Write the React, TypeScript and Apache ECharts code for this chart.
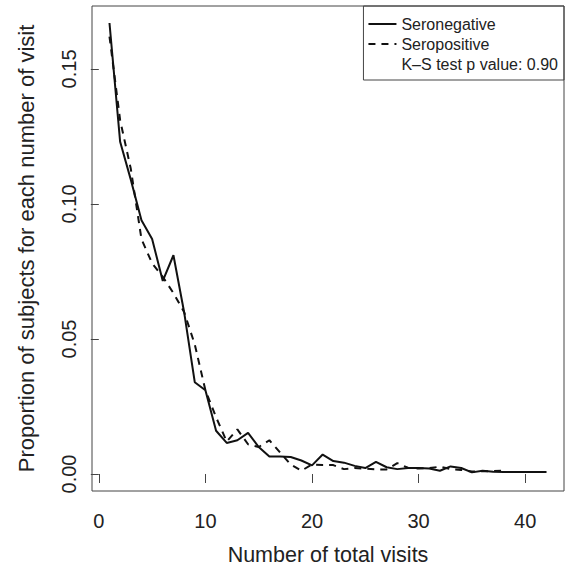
import React, { useEffect, useRef } from "react";
import * as echarts from "echarts";

// Seronegative: number of total visits and proportion of subjects
const negVisits = [
  1, 2, 3, 4, 5, 6, 7, 8, 9, 10, 11, 12, 13, 14, 15, 16, 17, 18, 19, 20, 21,
  22, 23, 24, 25, 26, 27, 28, 29, 30, 31, 32, 33, 34, 35, 36, 37, 38, 39, 40,
  41, 42,
];
const negProportion = [
  0.167, 0.123, 0.109, 0.094, 0.087, 0.0715, 0.081, 0.06, 0.034, 0.031, 0.016,
  0.0115, 0.0125, 0.0152, 0.01, 0.0065, 0.0065, 0.0063, 0.005, 0.0032, 0.0072,
  0.0048, 0.0042, 0.003, 0.0022, 0.0045, 0.0025, 0.0018, 0.0022, 0.0022, 0.002,
  0.0012, 0.0028, 0.0022, 0.0006, 0.0012, 0.0008, 0.0007, 0.0007, 0.0007,
  0.0007, 0.0007,
];

// Seropositive
const posVisits = [
  1, 2, 3, 4, 5, 6, 7, 8, 9, 10, 11, 12, 13, 14, 15, 16, 17, 18, 19, 20, 21,
  22, 23, 24, 25, 26, 27, 28, 29, 30, 31, 32, 33, 34, 35, 36, 37, 38,
];
const posProportion = [
  0.162, 0.131, 0.113, 0.087, 0.078, 0.073, 0.067, 0.06, 0.048, 0.031, 0.021,
  0.012, 0.0165, 0.011, 0.01, 0.0125, 0.008, 0.0035, 0.0012, 0.0035, 0.0033,
  0.0033, 0.0018, 0.0022, 0.002, 0.0017, 0.0017, 0.004, 0.0023, 0.002, 0.0022,
  0.0027, 0.0018, 0.0015, 0.0009, 0.001, 0.0011, 0.0012,
];

const xTicks = [0, 10, 20, 30, 40];
const yTicks = [0, 0.05, 0.1, 0.15];

const negName = "Seronegative";
const posName = "Seropositive";
const noteName = "K\u2013S test p value: 0.90";
const xTitle = "Number of total visits";
const yTitle = "Proportion of subjects for each number of visit";

const FONT = "'Liberation Sans', Arial, Helvetica, sans-serif";
const AXIS = "#444";
const TEXT = "#222";
const LINE = "#111";

export default function App() {
  const ref = useRef<HTMLDivElement>(null);

  useEffect(() => {
    if (!ref.current) return;
    const chart = echarts.init(ref.current, undefined, { renderer: "svg" });
    chart.setOption({
      animation: false,
      backgroundColor: "#fff",
      grid: {
        left: 92,
        right: 3,
        top: 6,
        bottom: 82,
        show: true,
        borderColor: AXIS,
        borderWidth: 1,
        backgroundColor: "transparent",
      },
      legend: {
        orient: "vertical",
        right: 3,
        top: 6,
        borderColor: AXIS,
        borderWidth: 1,
        padding: [10, 6, 8, 4],
        itemWidth: 28,
        itemHeight: 14,
        itemGap: 4,
        selectedMode: false,
        itemStyle: { opacity: 0, color: "transparent", borderWidth: 0 },
        textStyle: { fontSize: 16, color: TEXT, fontFamily: FONT },
        data: [{ name: negName }, { name: posName }, { name: noteName, icon: "none" }],
      },
      xAxis: {
        type: "value",
        min: -0.64,
        max: 43.64,
        axisLine: { show: false },
        splitLine: { show: false },
        axisTick: {
          show: true,
          length: 9,
          customValues: xTicks,
          lineStyle: { color: AXIS, width: 1 },
        },
        axisLabel: {
          customValues: xTicks,
          margin: 20,
          fontSize: 20,
          color: TEXT,
          fontFamily: FONT,
        },
        name: xTitle,
        nameLocation: "middle",
        nameGap: 53,
        nameTextStyle: { fontSize: 21.5, color: TEXT, fontFamily: FONT },
      },
      yAxis: {
        type: "value",
        min: -0.0063,
        max: 0.1733,
        axisLine: { show: false },
        splitLine: { show: false },
        axisTick: {
          show: true,
          length: 8,
          customValues: yTicks,
          lineStyle: { color: AXIS, width: 1 },
        },
        axisLabel: {
          customValues: yTicks,
          rotate: 90,
          margin: 13,
          fontSize: 20,
          color: TEXT,
          fontFamily: FONT,
          formatter: (v: number) => v.toFixed(2),
        },
        name: yTitle,
        nameLocation: "middle",
        nameRotate: 90,
        nameGap: 55,
        nameTextStyle: { fontSize: 22, color: TEXT, fontFamily: FONT },
      },
      series: [
        {
          name: negName,
          type: "line",
          symbol: "none",
          silent: true,
          lineStyle: { color: LINE, width: 2, type: "solid" },
          itemStyle: { color: LINE },
          data: negVisits.map((v, i) => [v, negProportion[i]]),
        },
        {
          name: posName,
          type: "line",
          symbol: "none",
          silent: true,
          lineStyle: { color: LINE, width: 2, type: [7, 6] },
          itemStyle: { color: LINE },
          data: posVisits.map((v, i) => [v, posProportion[i]]),
        },
        {
          name: noteName,
          type: "line",
          symbol: "none",
          silent: true,
          lineStyle: { opacity: 0 },
          itemStyle: { color: "transparent" },
          data: [],
        },
      ],
    });
    return () => chart.dispose();
  }, []);

  return (
    <div
      ref={ref}
      style={{ position: "fixed", left: 0, top: 0, width: 567, height: 573, background: "#fff" }}
    />
  );
}
